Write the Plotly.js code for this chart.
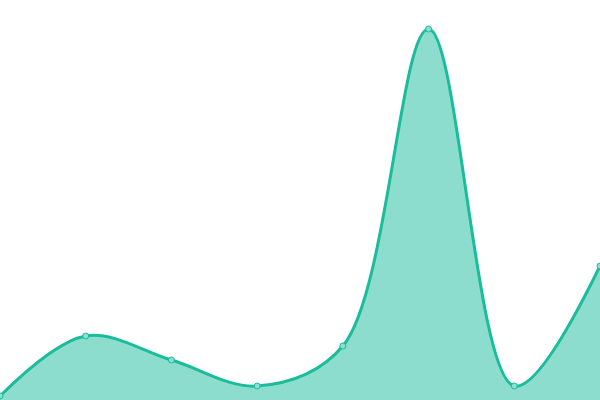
<!DOCTYPE html>
<html>
<head>
<meta charset="utf-8">
<script src="https://cdn.plot.ly/plotly-3.0.1.min.js"></script>
<style>
  html, body { margin: 0; padding: 0; background: #fff; }
  #plot { width: 600px; height: 400px; }
</style>
</head>
<body>
<div id="plot"></div>
<script>
// data
const steps = [0, 1, 2, 3, 4, 5, 6, 7];
const values = [1, 16, 10, 3.5, 13.5, 92.75, 3.5, 33.5];

const trace = {
    x: steps,
    y: values,
    type: 'scatter',
    mode: 'lines+markers',
    fill: 'tozeroy',
    fillcolor: 'rgba(26, 188, 156, 0.5)',
    line: { color: '#1abc9c', width: 3, shape: 'spline', smoothing: 1 },
    marker: { color: '#8ae0d0', size: 6, line: { color: '#1abc9c', width: 1 } },
    cliponaxis: false
};

const layout = {
    width: 600,
    height: 400,
    margin: { l: 0, r: 0, t: 0, b: 0 },
    paper_bgcolor: '#fff',
    plot_bgcolor: '#fff',
    showlegend: false,
    xaxis: { range: [0, 7], visible: false, fixedrange: true },
    yaxis: { range: [0, 100], visible: false, fixedrange: true }
};

Plotly.newPlot('plot', [trace], layout, { displayModeBar: false, staticPlot: true });
</script>
</body>
</html>
